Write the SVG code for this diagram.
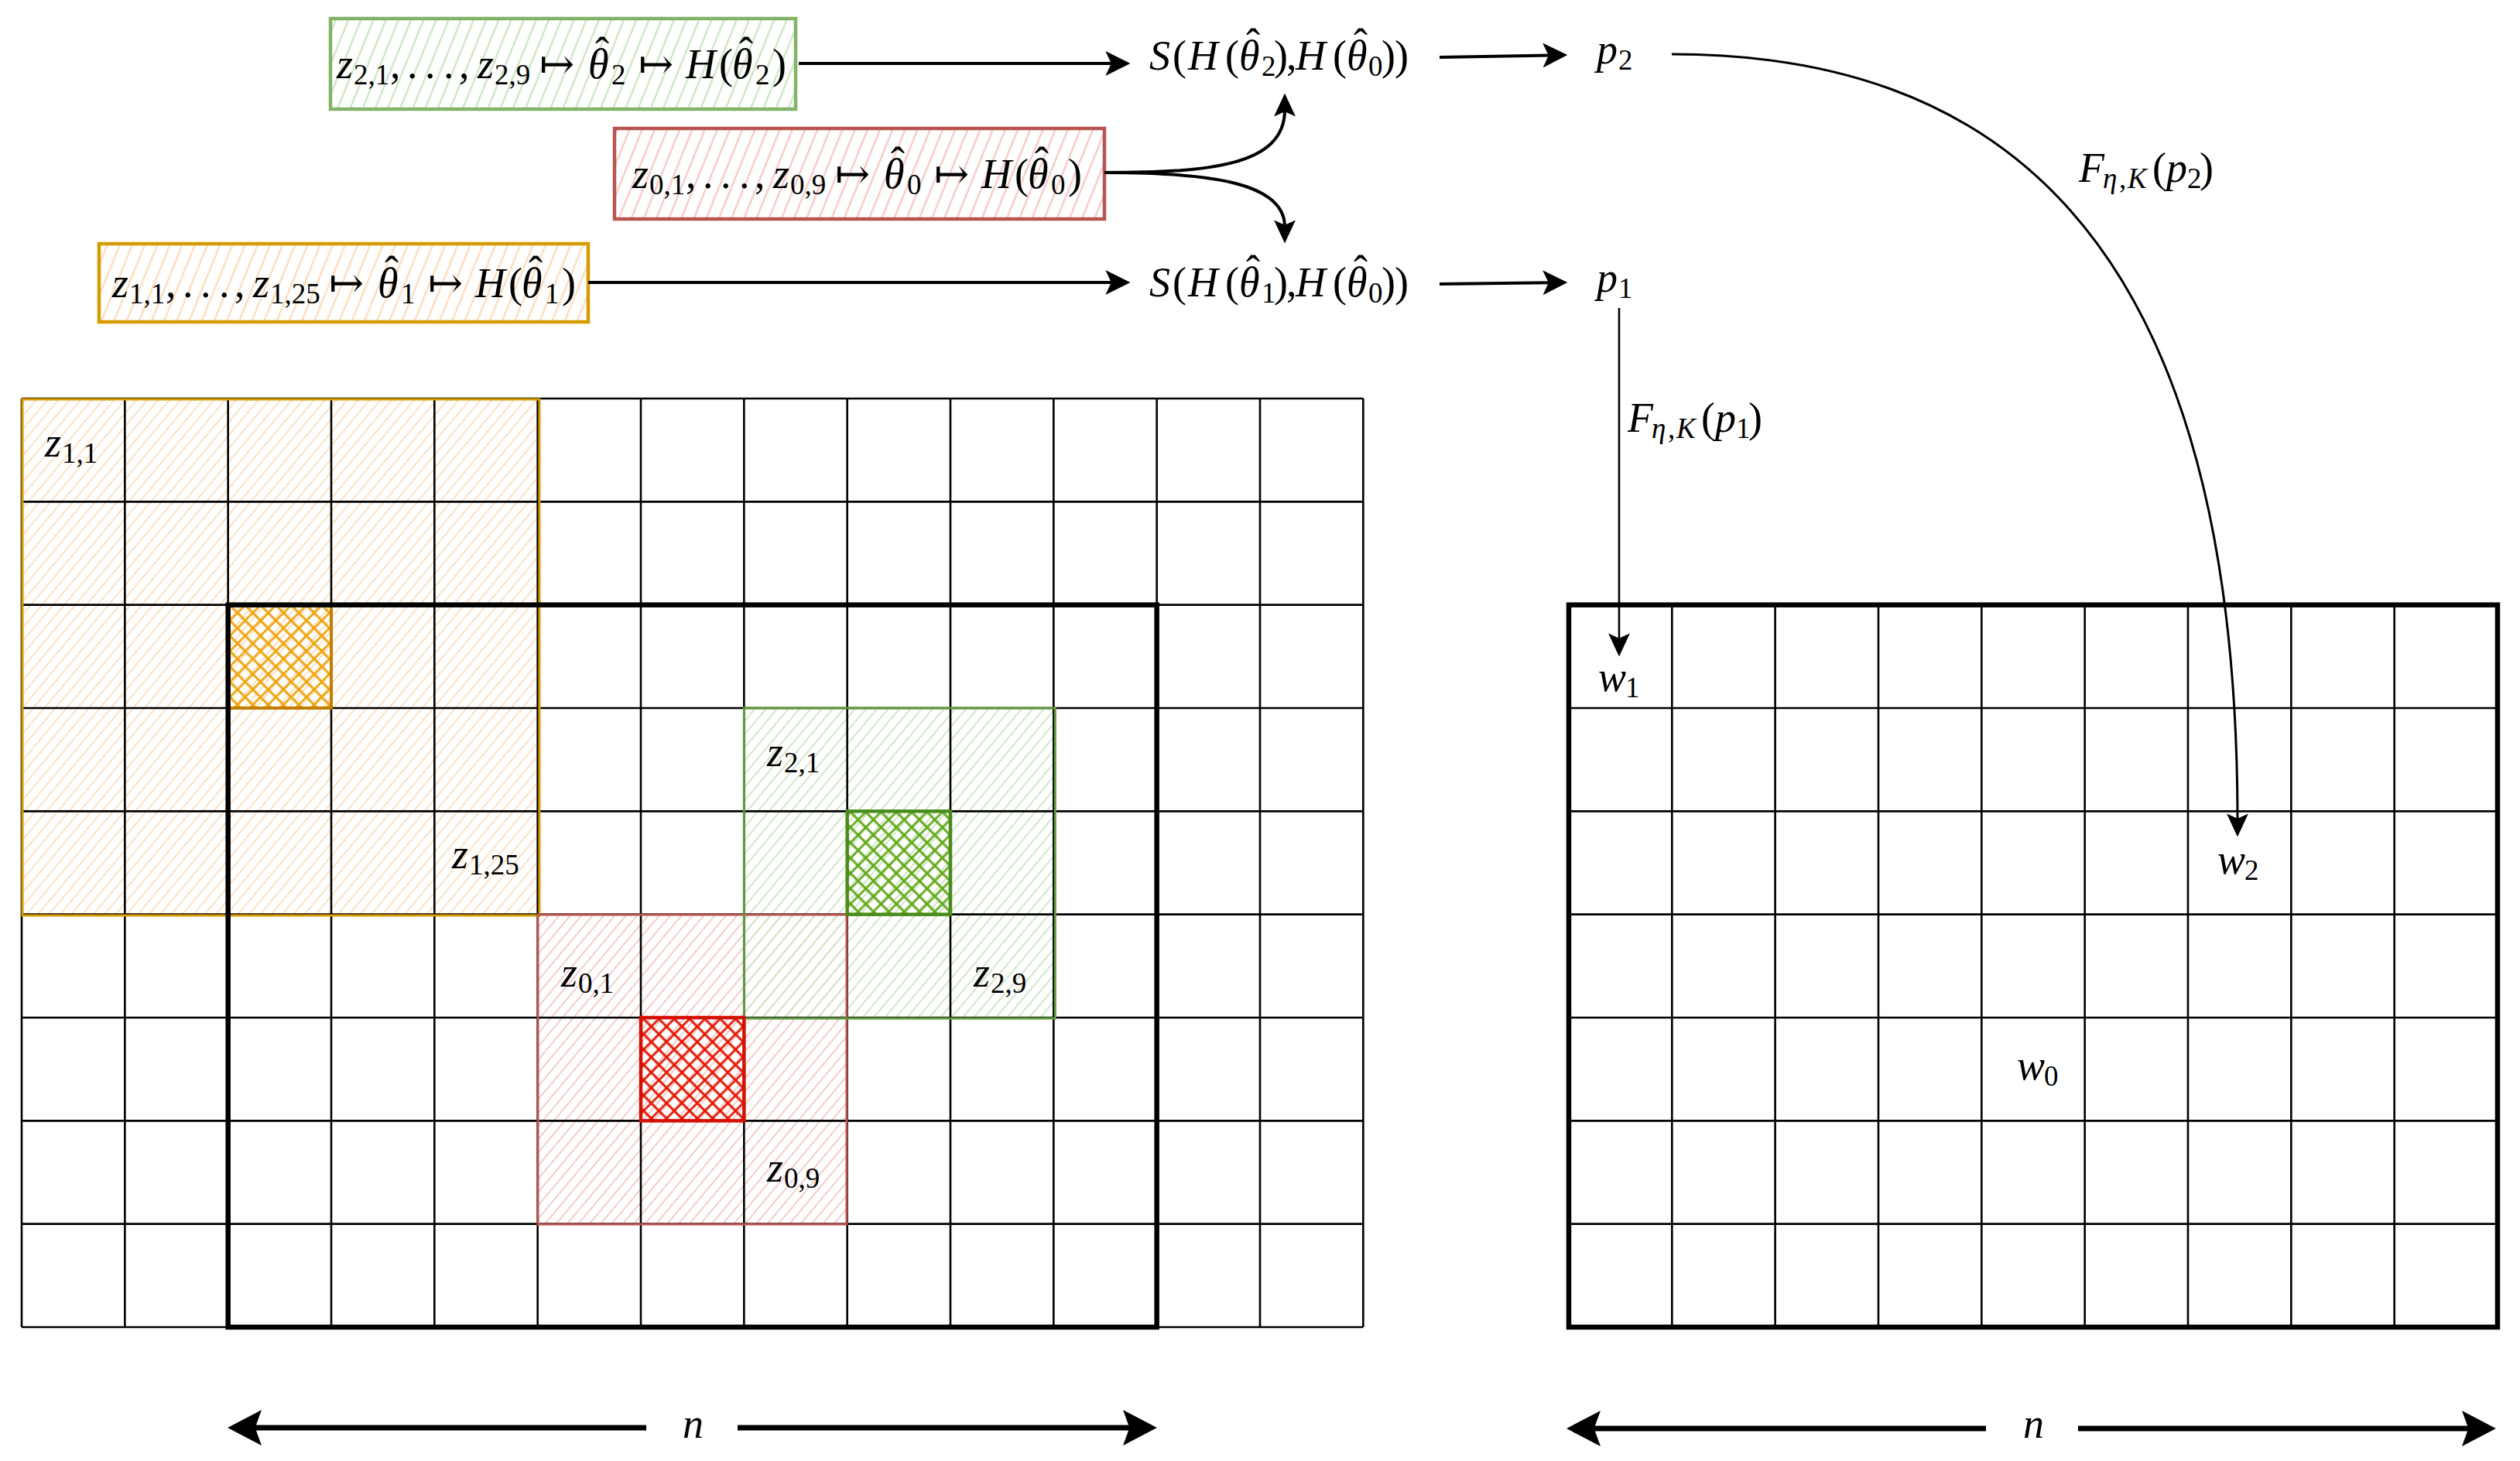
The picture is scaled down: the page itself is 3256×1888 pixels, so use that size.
<svg xmlns="http://www.w3.org/2000/svg" width="3256" height="1888" viewBox="0 0 3256 1888">
<defs>
<style>
.t{font-family:"Liberation Serif","DejaVu Serif",serif;font-size:54px;fill:#000}
.i{font-style:italic}
.s{font-size:37px;font-style:normal}
.si{font-size:37px;font-style:italic}
.g{fill:none;stroke:#000;stroke-width:2.6}
.thick{fill:none;stroke:#000;stroke-width:6.5}
.c{fill:none;stroke:#000;stroke-width:4}
.cthin{fill:none;stroke:#000;stroke-width:2.6}
.cbig{fill:none;stroke:#000;stroke-width:7}
</style>
<pattern id="hbG" patternUnits="userSpaceOnUse" width="15" height="15" patternTransform="rotate(22)"><line x1="7" y1="-1" x2="7" y2="16" stroke="#cde5c4" stroke-width="2.4"/></pattern>
<pattern id="hbR" patternUnits="userSpaceOnUse" width="15" height="15" patternTransform="rotate(22)"><line x1="7" y1="-1" x2="7" y2="16" stroke="#f6c9c7" stroke-width="2.4"/></pattern>
<pattern id="hbO" patternUnits="userSpaceOnUse" width="15" height="15" patternTransform="rotate(22)"><line x1="7" y1="-1" x2="7" y2="16" stroke="#fddcbc" stroke-width="2.4"/></pattern>
<pattern id="hrO" patternUnits="userSpaceOnUse" width="11" height="11" patternTransform="rotate(40)"><line x1="5" y1="-1" x2="5" y2="12" stroke="#fde1c4" stroke-width="2"/></pattern>
<pattern id="hrG" patternUnits="userSpaceOnUse" width="11" height="11" patternTransform="rotate(40)"><line x1="5" y1="-1" x2="5" y2="12" stroke="#d2e7ca" stroke-width="2"/></pattern>
<pattern id="hrR" patternUnits="userSpaceOnUse" width="11" height="11" patternTransform="rotate(40)"><line x1="5" y1="-1" x2="5" y2="12" stroke="#f6cccc" stroke-width="2"/></pattern>
<pattern id="xO" patternUnits="userSpaceOnUse" width="14" height="14" patternTransform="rotate(45)"><path d="M7,-1V15M-1,7H15" stroke="#f0a30a" stroke-width="2.8" fill="none"/></pattern>
<pattern id="xG" patternUnits="userSpaceOnUse" width="14" height="14" patternTransform="rotate(45)"><path d="M7,-1V15M-1,7H15" stroke="#60a917" stroke-width="2.8" fill="none"/></pattern>
<pattern id="xR" patternUnits="userSpaceOnUse" width="14" height="14" patternTransform="rotate(45)"><path d="M7,-1V15M-1,7H15" stroke="#e51400" stroke-width="2.8" fill="none"/></pattern>
<marker id="ah" markerUnits="userSpaceOnUse" markerWidth="32" markerHeight="32" viewBox="0 0 30 30" refX="10" refY="15" orient="auto"><path d="M0,0 L30,15 L0,30 L7,15 Z" fill="#000"/></marker>
<marker id="ahs" markerUnits="userSpaceOnUse" markerWidth="30" markerHeight="30" viewBox="0 0 28 26" refX="8" refY="13" orient="auto"><path d="M0,0 L28,13 L0,26 L6,13 Z" fill="#000"/></marker>
<marker id="ahb" markerUnits="userSpaceOnUse" markerWidth="46" markerHeight="46" viewBox="0 0 42 44" refX="22" refY="22" orient="auto"><path d="M0,0 L42,22 L0,44 L8,22 Z" fill="#000"/></marker>
</defs>
<rect width="3256" height="1888" fill="#fff"/>

<g id="left-grid">
<rect x="28" y="515" width="666.67" height="666.67" fill="url(#hrO)"/>
<rect x="694.67" y="1181.67" width="400" height="400" fill="url(#hrR)"/>
<rect x="961.33" y="915" width="400" height="400" fill="url(#hrG)"/>
<path class="g" d="M28,515V1715M161.33,515V1715M294.67,515V1715M428,515V1715M561.33,515V1715M694.67,515V1715M828,515V1715M961.33,515V1715M1094.67,515V1715M1228,515V1715M1361.33,515V1715M1494.67,515V1715M1628,515V1715M1761.33,515V1715M28,515H1761.33M28,648.33H1761.33M28,781.67H1761.33M28,915H1761.33M28,1048.33H1761.33M28,1181.67H1761.33M28,1315H1761.33M28,1448.33H1761.33M28,1581.67H1761.33M28,1715H1761.33"/>
<rect x="29" y="516" width="668" height="667" fill="none" stroke="#d79b00" stroke-width="3"/>
<rect x="695" y="1182" width="399" height="400" fill="none" stroke="#b85450" stroke-width="3"/>
<rect x="961.33" y="915" width="402" height="401" fill="none" stroke="#5f9a3c" stroke-width="3"/>
<rect x="294.67" y="781.67" width="133.33" height="133.33" fill="url(#xO)" stroke="#c27c00" stroke-width="4"/>
<rect x="828" y="1315" width="133.33" height="133.33" fill="url(#xR)" stroke="#d41000" stroke-width="4.5"/>
<rect x="1094.67" y="1048.33" width="133.33" height="133.33" fill="url(#xG)" stroke="#4a8c1c" stroke-width="4.5"/>
<rect class="thick" x="294.67" y="781.67" width="1200" height="933.33"/>
</g>

<g id="right-grid">
<path class="g" d="M2160.33,781.67V1715M2293.67,781.67V1715M2427,781.67V1715M2560.33,781.67V1715M2693.67,781.67V1715M2827,781.67V1715M2960.33,781.67V1715M3093.67,781.67V1715M2027,915H3227M2027,1048.33H3227M2027,1181.67H3227M2027,1315H3227M2027,1448.33H3227M2027,1581.67H3227"/>
<rect class="thick" x="2027" y="781.67" width="1200" height="933.33"/>
</g>

<g id="box-green">
<rect x="427" y="24" width="601" height="117" fill="url(#hbG)" stroke="#82b366" stroke-width="4.5"/>
<text class="t" y="101"><tspan x="435" class="i">z</tspan><tspan x="457" y="109" class="s">2,1</tspan><tspan x="504" y="101">,</tspan><tspan x="526">.</tspan><tspan x="549">.</tspan><tspan x="573">.</tspan><tspan x="593">,</tspan><tspan x="617" class="i">z</tspan><tspan x="639" y="109" class="s">2,9</tspan><tspan x="697" y="101">↦</tspan><tspan x="760" class="i">θ</tspan><tspan x="769" y="86">ˆ</tspan><tspan x="790" y="109" class="s">2</tspan><tspan x="825" y="101">↦</tspan><tspan x="886" class="i">H</tspan><tspan x="929">(</tspan><tspan x="946" class="i">θ</tspan><tspan x="955" y="86">ˆ</tspan><tspan x="976" y="109" class="s">2</tspan><tspan x="998" y="101">)</tspan></text>
</g>

<g id="box-red">
<rect x="794" y="166" width="633" height="117" fill="url(#hbR)" stroke="#b85450" stroke-width="4.5"/>
<text class="t" y="243"><tspan x="817" class="i">z</tspan><tspan x="839" y="251" class="s">0,1</tspan><tspan x="886" y="243">,</tspan><tspan x="908">.</tspan><tspan x="931">.</tspan><tspan x="955">.</tspan><tspan x="975">,</tspan><tspan x="999" class="i">z</tspan><tspan x="1021" y="251" class="s">0,9</tspan><tspan x="1079" y="243">↦</tspan><tspan x="1142" class="i">θ</tspan><tspan x="1151" y="228">ˆ</tspan><tspan x="1172" y="251" class="s">0</tspan><tspan x="1207" y="243">↦</tspan><tspan x="1268" class="i">H</tspan><tspan x="1311">(</tspan><tspan x="1328" class="i">θ</tspan><tspan x="1337" y="228">ˆ</tspan><tspan x="1358" y="251" class="s">0</tspan><tspan x="1380" y="243">)</tspan></text>
</g>

<g id="box-orange">
<rect x="128" y="315" width="632" height="101" fill="url(#hbO)" stroke="#d79b00" stroke-width="4.5"/>
<text class="t" y="384"><tspan x="145" class="i">z</tspan><tspan x="167" y="392" class="s">1,1</tspan><tspan x="214" y="384">,</tspan><tspan x="236">.</tspan><tspan x="259">.</tspan><tspan x="283">.</tspan><tspan x="303">,</tspan><tspan x="327" class="i">z</tspan><tspan x="349" y="392" class="s">1,25</tspan><tspan x="425" y="384">↦</tspan><tspan x="488" class="i">θ</tspan><tspan x="497" y="369">ˆ</tspan><tspan x="518" y="392" class="s">1</tspan><tspan x="553" y="384">↦</tspan><tspan x="614" class="i">H</tspan><tspan x="657">(</tspan><tspan x="674" class="i">θ</tspan><tspan x="683" y="369">ˆ</tspan><tspan x="704" y="392" class="s">1</tspan><tspan x="726" y="384">)</tspan></text>
</g>

<g id="s-upper">
<text class="t" y="90"><tspan x="1485" class="i">S</tspan><tspan x="1515">(</tspan><tspan x="1535" class="i">H</tspan><tspan x="1583">(</tspan><tspan x="1601" class="i">θ</tspan><tspan x="1610" y="75">ˆ</tspan><tspan x="1630" y="98" class="s">2</tspan><tspan x="1646" y="90">)</tspan><tspan x="1662">,</tspan><tspan x="1674" class="i">H</tspan><tspan x="1722">(</tspan><tspan x="1740" class="i">θ</tspan><tspan x="1749" y="75">ˆ</tspan><tspan x="1768" y="98" class="s">0</tspan><tspan x="1785" y="90">)</tspan><tspan x="1802">)</tspan></text>
</g>
<g id="s-lower">
<text class="t" y="383"><tspan x="1485" class="i">S</tspan><tspan x="1515">(</tspan><tspan x="1535" class="i">H</tspan><tspan x="1583">(</tspan><tspan x="1601" class="i">θ</tspan><tspan x="1610" y="368">ˆ</tspan><tspan x="1630" y="391" class="s">1</tspan><tspan x="1646" y="383">)</tspan><tspan x="1662">,</tspan><tspan x="1674" class="i">H</tspan><tspan x="1722">(</tspan><tspan x="1740" class="i">θ</tspan><tspan x="1749" y="368">ˆ</tspan><tspan x="1768" y="391" class="s">0</tspan><tspan x="1785" y="383">)</tspan><tspan x="1802">)</tspan></text>
</g>

<g id="p2"><text class="t" y="82"><tspan x="2063" class="i">p</tspan><tspan x="2091" y="90" class="s">2</tspan></text></g>
<g id="p1"><text class="t" y="377"><tspan x="2063" class="i">p</tspan><tspan x="2091" y="385" class="s">1</tspan></text></g>

<g id="w1"><text class="t" y="893"><tspan x="2065" class="i">w</tspan><tspan x="2100" y="901" class="s">1</tspan></text></g>
<g id="w2"><text class="t" y="1129"><tspan x="2865" class="i">w</tspan><tspan x="2900" y="1137" class="s">2</tspan></text></g>
<g id="w0"><text class="t" y="1395"><tspan x="2606" class="i">w</tspan><tspan x="2641" y="1403" class="s">0</tspan></text></g>

<g id="cell-labels">
<text class="t" y="590"><tspan x="58" class="i">z</tspan><tspan x="80" y="598" class="s">1,1</tspan></text>
<text class="t" y="1122"><tspan x="584" class="i">z</tspan><tspan x="606" y="1130" class="s">1,25</tspan></text>
<text class="t" y="990"><tspan x="991" class="i">z</tspan><tspan x="1013" y="998" class="s">2,1</tspan></text>
<text class="t" y="1275"><tspan x="1258" class="i">z</tspan><tspan x="1280" y="1283" class="s">2,9</tspan></text>
<text class="t" y="1275"><tspan x="725" class="i">z</tspan><tspan x="747" y="1283" class="s">0,1</tspan></text>
<text class="t" y="1527"><tspan x="991" class="i">z</tspan><tspan x="1013" y="1535" class="s">0,9</tspan></text>
</g>

<g id="connectors">
<path class="c" d="M1032,82 L1439,82" marker-end="url(#ah)"/>
<path class="c" d="M760,365 L1439,365" marker-end="url(#ah)"/>
<path class="c" d="M1427,223 C1560,223 1660,215 1660,142" marker-end="url(#ahs)"/>
<path class="c" d="M1427,223 C1560,223 1660,235 1660,293" marker-end="url(#ahs)"/>
<path class="c" d="M1860,74 L2004,71.4" marker-end="url(#ah)"/>
<path class="c" d="M1860,367 L2004,365.2" marker-end="url(#ah)"/>
<path class="cthin" d="M2092,398 L2092,827" marker-end="url(#ahs)"/>
<path class="c" style="stroke-width:3" d="M2160,70 C2560,70 2891,280 2891,1060" marker-end="url(#ahs)"/>
<path class="cbig" d="M835,1845 L315,1845" marker-end="url(#ahb)"/>
<path class="cbig" d="M953,1845 L1474,1845" marker-end="url(#ahb)"/>
<path class="cbig" d="M2566,1846 L2045,1846" marker-end="url(#ahb)"/>
<path class="cbig" d="M2685,1846 L3204,1846" marker-end="url(#ahb)"/>
</g>

<g id="edge-labels">
<text class="t" y="558"><tspan x="2103" class="i">F</tspan><tspan x="2134" y="566" class="si">η</tspan><tspan x="2155" class="s">,</tspan><tspan x="2166" class="si">K</tspan><tspan x="2198" y="558">(</tspan><tspan x="2216" class="i">p</tspan><tspan x="2243" y="566" class="s">1</tspan><tspan x="2259" y="558">)</tspan></text>
<text class="t" y="235"><tspan x="2686" class="i">F</tspan><tspan x="2717" y="243" class="si">η</tspan><tspan x="2738" class="s">,</tspan><tspan x="2749" class="si">K</tspan><tspan x="2781" y="235">(</tspan><tspan x="2799" class="i">p</tspan><tspan x="2826" y="243" class="s">2</tspan><tspan x="2842" y="235">)</tspan></text>
<text class="t i" x="882" y="1858">n</text>
<text class="t i" x="2614" y="1858">n</text>
</g>
</svg>
